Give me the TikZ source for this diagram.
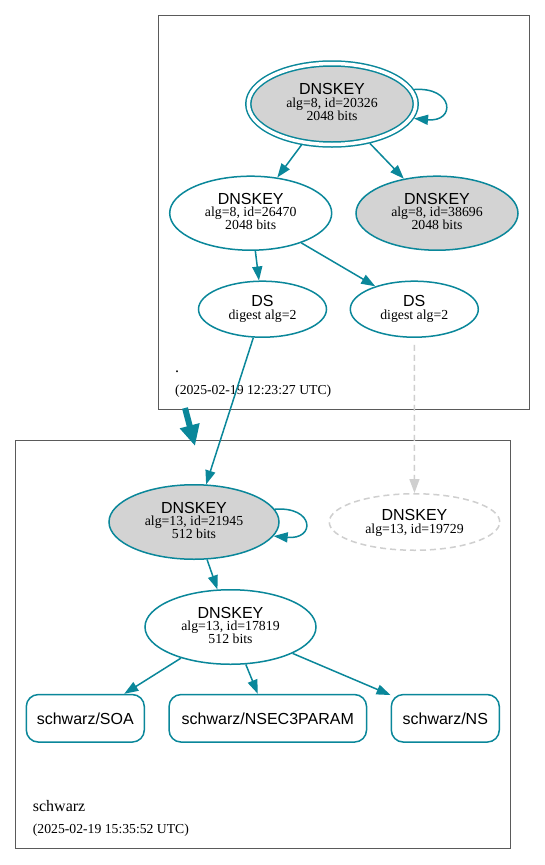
\documentclass[tikz,border=0pt]{standalone}
\usepackage{fontspec}
\setmainfont{Liberation Serif}
\setsansfont{Liberation Sans}
\usetikzlibrary{arrows.meta,calc,shapes.geometric}
\definecolor{sec}{HTML}{0A879A}
\definecolor{keygray}{HTML}{D3D3D3}
\definecolor{insec}{HTML}{CFCFCF}
\definecolor{clus}{HTML}{5A5A5A}
\begin{document}
\begin{tikzpicture}[x=1pt,y=-1pt,
  ell/.style={ellipse, draw=sec, line width=1.5pt, inner sep=0pt, outer sep=0.75pt},
  grayfill/.style={fill=keygray},
  insecell/.style={ellipse, draw=insec, line width=1.5pt, dash pattern=on 6pt off 4pt, inner sep=0pt, outer sep=0.75pt},
  rrbox/.style={rectangle, rounded corners=12pt, draw=sec, line width=1.5pt, inner sep=0pt, outer sep=0.75pt, font=\sffamily\fontsize{16}{16}\selectfont},
  ttl/.style={font=\sffamily\fontsize{16}{16}\selectfont, anchor=base, inner sep=0pt},
  det/.style={font=\fontsize{13.8}{14}\selectfont, anchor=base, inner sep=0pt},
  zlbl/.style={font=\fontsize{16}{16}\selectfont, anchor=base west, inner sep=0pt},
  zts/.style={font=\fontsize{13.7}{14}\selectfont, anchor=base west, inner sep=0pt},
  edge/.style={draw=sec, line width=1.5pt, -{Triangle[length=14pt,width=10pt]}},
  insecedge/.style={draw=insec, line width=1.5pt, dash pattern=on 6pt off 4pt, -{Triangle[length=14pt,width=10pt]}},
  deleg/.style={draw=sec, line width=6pt, -{Triangle[length=21pt,width=19pt]}},
  clusbox/.style={draw=clus, line width=0.9pt}
]
\useasboundingbox (0,0) rectangle (545,865);
\fill[white] (0,0) rectangle (545,865);

% clusters
\draw[clusbox] (158.3,15.7) rectangle (529.3,409.3);
\draw[clusbox] (15.7,440.3) rectangle (510.7,848.3);

% top zone nodes
\node[ell, grayfill, double=white, double distance=3.5pt, outer sep=3.25pt, minimum width=167.4pt, minimum height=81pt] (root) at (332,104) {};
\node[ttl] (roott) at ($(root)+(0,-10)$) {DNSKEY};
\node[det] (roota) at ($(root)+(0,3.5)$) {alg=8, id=20326};
\node[det] (rootb) at ($(root)+(0,16.5)$) {2048 bits};

\node[ell, minimum width=162pt, minimum height=74pt] (k2) at (250.7,213.2) {};
\node[ttl] (k2t) at ($(k2)+(0,-9)$) {DNSKEY};
\node[det] (k2a) at ($(k2)+(0,3.5)$) {alg=8, id=26470};
\node[det] (k2b) at ($(k2)+(0,16.5)$) {2048 bits};

\node[ell, grayfill, minimum width=162pt, minimum height=74pt] (k3) at (437,213.2) {};
\node[ttl] (k3t) at ($(k3)+(0,-9)$) {DNSKEY};
\node[det] (k3a) at ($(k3)+(0,3.5)$) {alg=8, id=38696};
\node[det] (k3b) at ($(k3)+(0,16.5)$) {2048 bits};

\node[ell, minimum width=128pt, minimum height=56pt] (ds1) at (262.5,309.2) {};
\node[ttl] (ds1t) at ($(ds1)+(0,-3)$) {DS};
\node[det] (ds1a) at ($(ds1)+(0,10)$) {digest alg=2};

\node[ell, minimum width=128pt, minimum height=56pt] (ds2) at (414.3,309.2) {};
\node[ttl] (ds2t) at ($(ds2)+(0,-3)$) {DS};
\node[det] (ds2a) at ($(ds2)+(0,10)$) {digest alg=2};

\node[zlbl] (zone1) at (175,372) {.};
\node[zts] (zone1ts) at (175,394) {(2025-02-19 12:23:27 UTC)};

% bottom zone nodes
\node[ell, grayfill, minimum width=170pt, minimum height=74.5pt] (k4) at (194,522) {};
\node[ttl] (k4t) at ($(k4)+(0,-9)$) {DNSKEY};
\node[det] (k4a) at ($(k4)+(0,3.5)$) {alg=13, id=21945};
\node[det] (k4b) at ($(k4)+(0,16.5)$) {512 bits};

\node[insecell, minimum width=170.5pt, minimum height=56.5pt] (k5) at (414.5,522) {};
\node[ttl] (k5t) at ($(k5)+(0,-2)$) {DNSKEY};
\node[det] (k5a) at ($(k5)+(0,11)$) {alg=13, id=19729};

\node[ell, minimum width=171pt, minimum height=74.5pt] (k6) at (230.5,627) {};
\node[ttl] (k6t) at ($(k6)+(0,-9)$) {DNSKEY};
\node[det] (k6a) at ($(k6)+(0,3.5)$) {alg=13, id=17819};
\node[det] (k6b) at ($(k6)+(0,16.5)$) {512 bits};

\node[rrbox, minimum width=118pt, minimum height=47.5pt] (soa) at (85.3,718.3) {schwarz/SOA};
\node[rrbox, minimum width=197.5pt, minimum height=47.5pt] (nsec) at (267.8,718.3) {schwarz/NSEC3PARAM};
\node[rrbox, minimum width=108pt, minimum height=47.5pt] (ns) at (445.3,718.3) {schwarz/NS};

\node[zlbl] (zone2) at (32.7,811) {schwarz};
\node[zts] (zone2ts) at (32.7,833) {(2025-02-19 15:35:52 UTC)};

% edges
\draw[edge] (root.10) .. controls +(40,-3) and +(42,4) .. (root.-10);
\draw[edge] (root) -- (k2);
\draw[edge] (root) -- (k3);
\draw[edge] (k2) -- (ds1);
\draw[edge] (k2) -- (ds2);
\draw[edge] (ds1) -- (k4);
\draw[insecedge, shorten <=7pt] (ds2) -- (k5);

\coordinate (dfrom) at (185,408);
\coordinate (dto) at (195,446);
\draw[deleg] (dfrom) -- (dto);

\draw[edge] (k4.9) .. controls +(40,-3) and +(42,4) .. (k4.-10);
\draw[edge] (k4) -- (k6);
\draw[edge] (k6) -- (soa);
\draw[edge] (k6) -- (nsec);
\draw[edge] (k6) -- (ns);
\end{tikzpicture}
\end{document}
